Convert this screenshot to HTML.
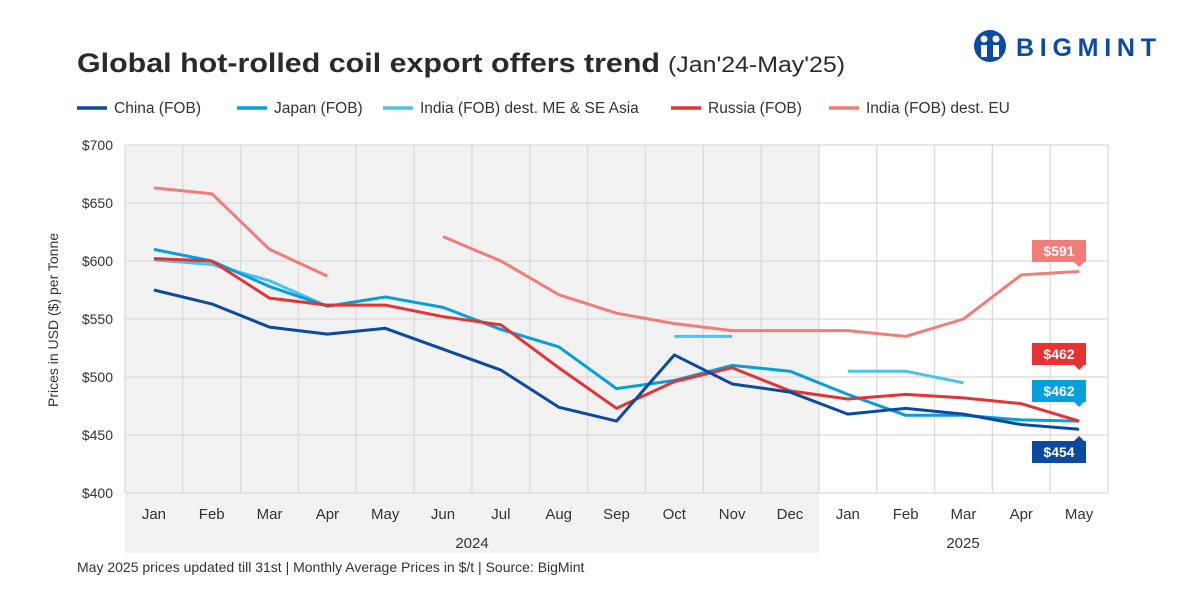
<!DOCTYPE html>
<html><head><meta charset="utf-8"><style>
body{margin:0;width:1200px;height:600px;background:#fff;font-family:"Liberation Sans",sans-serif;overflow:hidden}
</style></head><body>
<svg width="1200" height="600">
<text x="77" y="72" font-size="27" font-weight="bold" fill="#2a2a2a" textLength="583" lengthAdjust="spacingAndGlyphs">Global hot-rolled coil export offers trend</text>
<text x="668" y="72" font-size="22" fill="#2a2a2a" textLength="177" lengthAdjust="spacingAndGlyphs">(Jan'24-May'25)</text>
<g>
<circle cx="990" cy="46" r="16" fill="#0a4aa6"/>
<circle cx="984" cy="39" r="3.5" fill="#fff"/><circle cx="996" cy="39" r="3.5" fill="#fff"/>
<rect x="981" y="45" width="6" height="12" fill="#fff"/><rect x="993" y="45" width="6" height="12" fill="#fff"/>
<text x="1016" y="56" font-size="25" font-weight="bold" fill="#0a4aa6" textLength="140" lengthAdjust="spacing">BIGMINT</text>
</g>
<g id="legend" font-size="15.5" fill="#333"></g>
<rect x="125" y="145" width="694" height="348" fill="#f2f2f2"/>
<rect x="125" y="493" width="694" height="60" fill="#f2f2f2"/>
<g id="grid"></g>
<g id="lines"></g>
<g id="labels"></g>
<text x="58" y="320" font-size="14" fill="#333" transform="rotate(-90 58 320)" text-anchor="middle">Prices in USD ($) per Tonne</text>
<text x="472" y="548" font-size="15" fill="#333" text-anchor="middle">2024</text>
<text x="963" y="548" font-size="15" fill="#333" text-anchor="middle">2025</text>
<text x="77" y="572" font-size="14" fill="#333">May 2025 prices updated till 31st | Monthly Average Prices in $/t | Source: BigMint</text>
</svg>
<script>
const months=["Jan","Feb","Mar","Apr","May","Jun","Jul","Aug","Sep","Oct","Nov","Dec","Jan","Feb","Mar","Apr","May"];
const yTicks=[400,450,500,550,600,650,700];
const china=[575,563,543,537,542,524,506,474,462,519,494,487,468,473,468,459,455];
const japan=[610,600,578,561,569,560,541,526,490,497,510,505,485,467,467,463,462];
const indiaME=[601,597,583,561,null,null,null,null,null,535,535,null,505,505,495,null,null];
const russia=[602,600,568,562,562,552,545,508,473,496,508,488,481,485,482,477,462];
const indiaEU=[663,658,610,587,null,621,600,571,555,546,540,540,540,535,550,588,591];
const seriesNames=["China (FOB)","Japan (FOB)","India (FOB) dest. ME & SE Asia","Russia (FOB)","India (FOB) dest. EU"];
const endLabels=["$454","$462","","$462","$591"];
const colors=["#0a4aa0","#069fdc","#4cc1ee","#e53232","#f07d78"];
const data=[china,japan,indiaME,russia,indiaEU];
const L=125,R=1108,T=145,B=493;
const bw=(R-L)/months.length;
const x=i=>L+bw*(i+0.5);
const y=v=>T+(700-v)*(B-T)/300;
const NS="http://www.w3.org/2000/svg";
function mk(p,tag,a){const e=document.createElementNS(NS,tag);for(const k in a)e.setAttribute(k,a[k]);p.appendChild(e);return e;}
const grid=document.getElementById('grid');
yTicks.forEach(v=>{
 const l=mk(grid,'line',{x1:L,x2:R,y1:y(v),y2:y(v),stroke:'#dadada','stroke-width':1.3});
 
 
 const t=mk(grid,'text',{x:L-12,y:y(v)+5,'text-anchor':'end','font-size':14,fill:'#333'});
 t.textContent='$'+v;
 
 
});
for(let i=0;i<=months.length;i++){
 const l=mk(grid,'line',{x1:L+bw*i,x2:L+bw*i,y1:T,y2:B,stroke:'#dadada','stroke-width':1.3});
 
 
}
months.forEach((m,i)=>{
 const t=mk(grid,'text',{x:x(i),y:519,'text-anchor':'middle','font-size':15,fill:'#333'});
 t.textContent=m;
 
 
});
const lines=document.getElementById('lines');
[4,2,1,3,0].forEach(s=>{
 let d='',pen=false;
 data[s].forEach((v,i)=>{if(v==null){pen=false;return;}d+=(pen?'L':'M')+x(i)+' '+y(v)+' ';pen=true;});
 const p=mk(lines,'path',{d:d,fill:'none',stroke:colors[s],'stroke-width':3,'stroke-linejoin':'round'});
 
 
});
const leg=document.getElementById('legend');
const lx=[77,237,383,671,829];
seriesNames.forEach((n,s)=>{
 const l=mk(leg,'line',{x1:lx[s],x2:lx[s]+30,y1:108,y2:108,stroke:colors[s],'stroke-width':3.5});
 
 
 const t=mk(leg,'text',{x:lx[s]+37,y:113});
 t.textContent=n;
 
 
});
const lab=document.getElementById('labels');
const boxY={0:441,1:380,3:343,4:240};
[4,3,1,0].forEach(s=>{
 const by=boxY[s],bx=1032,w=54,h=22;
 const g=mk(lab,'g',{});
 
 
 mk(g,'rect',{x:bx,y:by,width:w,height:h,fill:colors[s]});
 if(s===0) mk(g,'path',{d:`M${x(16)-5} ${by} L${x(16)} ${by-5} L${x(16)+5} ${by} Z`,fill:colors[s]});
 else mk(g,'path',{d:`M${x(16)-5} ${by+h} L${x(16)} ${by+h+5} L${x(16)+5} ${by+h} Z`,fill:colors[s]});
 const t=mk(g,'text',{x:bx+w/2,y:by+16,'text-anchor':'middle','font-size':14,'font-weight':'bold',fill:'#fff'});
 t.textContent=endLabels[s];
});
</script>
</body></html>
